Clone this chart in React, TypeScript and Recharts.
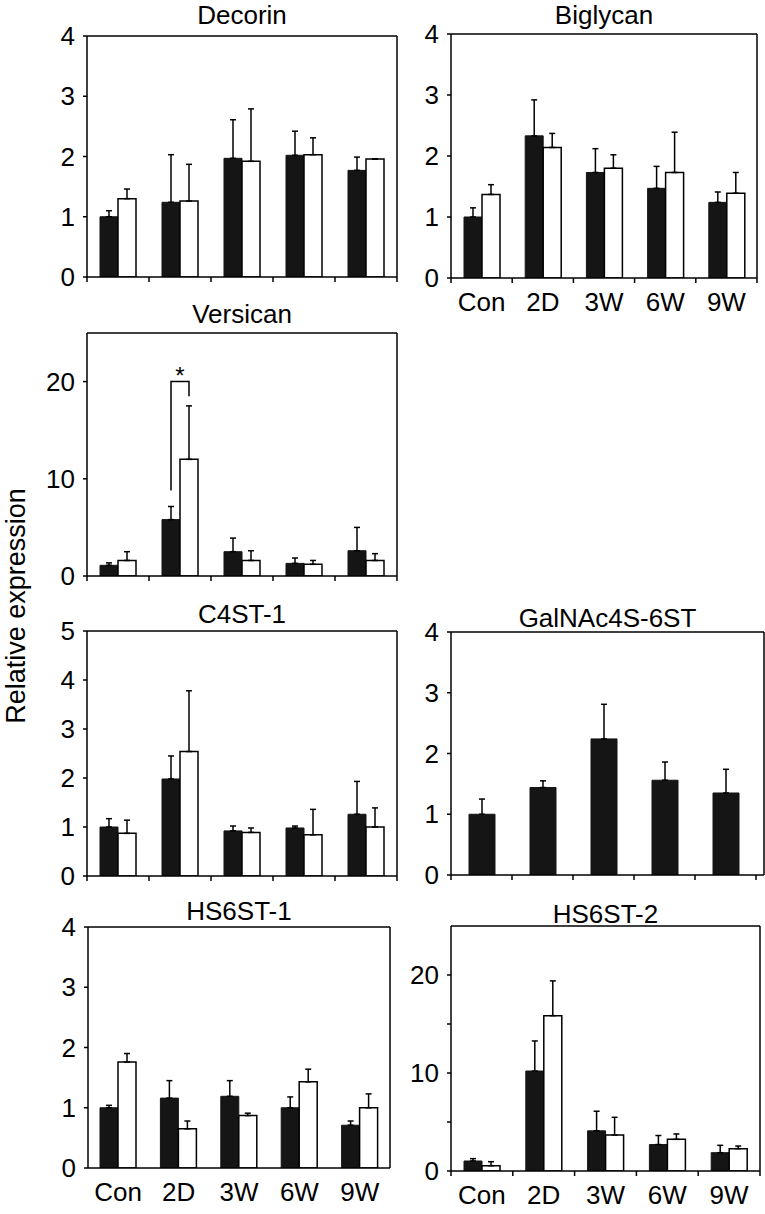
import React from "react";
import { Bar, BarChart, CartesianGrid, ErrorBar, LabelList, XAxis, YAxis } from "recharts";

const categories = ["Con", "2D", "3W", "6W", "9W"];

const decorinBlack = [1.0, 1.24, 1.97, 2.02, 1.77];
const decorinBlackErr = [0.1, 0.79, 0.64, 0.4, 0.22];
const decorinWhite = [1.3, 1.26, 1.92, 2.03, 1.96];
const decorinWhiteErr = [0.16, 0.61, 0.87, 0.28, 0];

const biglycanBlack = [1.0, 2.33, 1.73, 1.47, 1.24];
const biglycanBlackErr = [0.15, 0.59, 0.39, 0.36, 0.17];
const biglycanWhite = [1.37, 2.14, 1.8, 1.73, 1.39];
const biglycanWhiteErr = [0.16, 0.23, 0.22, 0.66, 0.34];

const versicanBlack = [1.1, 5.8, 2.5, 1.3, 2.6];
const versicanBlackErr = [0.25, 1.35, 1.4, 0.55, 2.4];
const versicanWhite = [1.6, 12.0, 1.6, 1.2, 1.6];
const versicanWhiteErr = [0.9, 5.5, 1.0, 0.4, 0.7];
// bracket over 2D: left leg from 8.8 up to 20, right leg down to 18.5
const versicanSig = { cat: "2D", from: 8.8, top: 20, to: 18.5 };

const c4stBlack = [1.0, 1.98, 0.92, 0.98, 1.26];
const c4stBlackErr = [0.17, 0.47, 0.1, 0.04, 0.67];
const c4stWhite = [0.87, 2.54, 0.89, 0.84, 1.0];
const c4stWhiteErr = [0.27, 1.24, 0.09, 0.52, 0.39];

const galnacBlack = [1.0, 1.44, 2.24, 1.56, 1.35];
const galnacBlackErr = [0.25, 0.11, 0.57, 0.3, 0.39];

const hs6st1Black = [1.0, 1.16, 1.19, 1.0, 0.71];
const hs6st1BlackErr = [0.04, 0.29, 0.26, 0.18, 0.07];
const hs6st1White = [1.76, 0.65, 0.87, 1.43, 1.0];
const hs6st1WhiteErr = [0.14, 0.13, 0.04, 0.21, 0.23];

const hs6st2Black = [1.02, 10.2, 4.1, 2.7, 1.87];
const hs6st2BlackErr = [0.24, 3.07, 2.0, 0.92, 0.75];
const hs6st2White = [0.54, 15.85, 3.67, 3.23, 2.28];
const hs6st2WhiteErr = [0.41, 3.55, 1.81, 0.55, 0.27];

const FONT = '"Liberation Sans", Arial, Helvetica, sans-serif';
const INK = "#000";
const BAR_BLACK = "#151515";
const TICK_FS = 26;

type PanelProps = {
  title: string;
  titleBase: number;
  left: number;
  top: number;
  right: number;
  bottom: number;
  yMax: number;
  yTicks: number[];
  labelEvery?: number;
  black: number[];
  blackErr: number[];
  white?: number[];
  whiteErr?: number[];
  showLabels?: boolean;
  boundaryTicks?: boolean;
  padRight?: number;
  barSize?: number;
  sig?: { cat: string; from: number; top: number; to: number };
};

const YW = 60;
const MT = 20;
const MR = 6;
const XH = 50;

function Panel(p: PanelProps) {
  const {
    title, titleBase, left, top, right, bottom, yMax, yTicks, labelEvery,
    black, blackErr, white, whiteErr, showLabels = false, boundaryTicks = true,
    padRight = 0, barSize = 18, sig,
  } = p;
  const plotW = right - left;
  const plotH = bottom - top;

  const rows = categories.map((cat, i) => ({
    cat,
    black: black[i],
    blackErr: [0, blackErr[i]],
    white: white ? white[i] : undefined,
    whiteErr: whiteErr ? [0, whiteErr[i]] : undefined,
    sig: sig && sig.cat === cat ? black[i] : null,
  }));

  const fallbackHalf = (plotW - padRight) / categories.length / 2;

  const renderXTick = (props: any) => {
    const { x, y, payload, index } = props;
    const half = payload && typeof payload.offset === "number" && payload.offset > 0 ? payload.offset : fallbackHalf;
    return (
      <g>
        {boundaryTicks && (
          <line x1={x - half} x2={x - half} y1={y} y2={y + 5} stroke={INK} strokeWidth={1.5} />
        )}
        {boundaryTicks && index === categories.length - 1 && (
          <line x1={x + half} x2={x + half} y1={y} y2={y + 5} stroke={INK} strokeWidth={1.5} />
        )}
        {showLabels && (
          <text x={x} y={y + 33} textAnchor="middle" fontSize={TICK_FS} fontFamily={FONT} fill={INK}>
            {payload.value}
          </text>
        )}
      </g>
    );
  };

  const renderSig = (props: any) => {
    const { value } = props;
    if (!sig || value === null || value === undefined) return null;
    const vb = props.viewBox || props;
    const { x, y, width, height } = vb;
    const base = y + height;
    const perUnit = height / value;
    const yFor = (v: number) => base - v * perUnit;
    const xl = x + width / 2;
    const xr = x + width * 1.5;
    const yt = yFor(sig.top);
    return (
      <g>
        <path
          d={`M${xl},${yFor(sig.from)} L${xl},${yt} L${xr},${yt} L${xr},${yFor(sig.to)}`}
          fill="none"
          stroke={INK}
          strokeWidth={1.5}
        />
        <text x={(xl + xr) / 2} y={yt + 2} textAnchor="middle" fontSize={24} fontFamily={FONT} fill={INK}>
          *
        </text>
      </g>
    );
  };

  const axisStroke = { stroke: INK, strokeWidth: 1.5 };

  return (
    <>
      <div
        style={{
          position: "absolute",
          left: left - 20,
          width: plotW + 40,
          top: titleBase - 22,
          fontSize: 26,
          lineHeight: "26px",
          fontFamily: FONT,
          textAlign: "center",
          color: INK,
          whiteSpace: "nowrap",
        }}
      >
        {title}
      </div>
      <div style={{ position: "absolute", left: left - YW, top: top - MT }}>
        <BarChart
          width={YW + plotW + MR}
          height={MT + plotH + XH}
          data={rows}
          margin={{ top: MT, right: MR, bottom: 0, left: 0 }}
          barGap={0}
        >
          {/* top and right edges of the frame */}
          <CartesianGrid
            stroke={INK}
            strokeWidth={1.5}
            horizontalCoordinatesGenerator={(g: any) => [g?.offset?.top ?? MT]}
            verticalCoordinatesGenerator={(g: any) => [
              g?.offset ? g.offset.left + g.offset.width : YW + plotW,
            ]}
          />
          <XAxis
            dataKey="cat"
            type="category"
            height={XH}
            axisLine={axisStroke}
            tickLine={false}
            tickSize={0}
            tickMargin={0}
            interval={0}
            padding={{ left: 0, right: padRight }}
            tick={renderXTick}
          />
          <YAxis
            type="number"
            domain={[0, yMax]}
            ticks={yTicks}
            interval={0}
            allowDataOverflow
            width={YW}
            axisLine={axisStroke}
            tickLine={axisStroke}
            tickSize={4}
            tickMargin={8}
            tick={{ fill: INK, fontSize: TICK_FS, fontFamily: FONT }}
            tickFormatter={(v: number) => (labelEvery && v % labelEvery !== 0 ? "" : String(v))}
          />
          <Bar dataKey="black" fill={BAR_BLACK} stroke={BAR_BLACK} strokeWidth={1} barSize={barSize} isAnimationActive={false}>
            <ErrorBar dataKey="blackErr" direction="y" width={3} stroke={INK} strokeWidth={1.5} isAnimationActive={false} />
            {sig && <LabelList dataKey="sig" content={renderSig} />}
          </Bar>
          {white && (
            <Bar dataKey="white" fill="#fff" stroke={INK} strokeWidth={1.5} barSize={barSize} isAnimationActive={false}>
              <ErrorBar dataKey="whiteErr" direction="y" width={3} stroke={INK} strokeWidth={1.5} isAnimationActive={false} />
            </Bar>
          )}
        </BarChart>
      </div>
    </>
  );
}

export default function App() {
  return (
    <div
      style={{
        position: "absolute",
        left: 0,
        top: 0,
        width: 765,
        height: 1214,
        background: "#fff",
        fontFamily: FONT,
        overflow: "hidden",
      }}
    >
      <div
        style={{
          position: "absolute",
          left: 16,
          top: 606,
          transform: "translate(-50%, -50%) rotate(-90deg)",
          fontSize: 27,
          lineHeight: "30px",
          whiteSpace: "nowrap",
          color: INK,
        }}
      >
        Relative expression
      </div>

      <Panel
        title="Decorin"
        titleBase={24}
        left={87}
        top={36}
        right={397}
        bottom={277}
        yMax={4}
        yTicks={[0, 1, 2, 3, 4]}
        black={decorinBlack}
        blackErr={decorinBlackErr}
        white={decorinWhite}
        whiteErr={decorinWhiteErr}
      />
      <Panel
        title="Biglycan"
        titleBase={24}
        left={451}
        top={34}
        right={757}
        bottom={278}
        yMax={4}
        yTicks={[0, 1, 2, 3, 4]}
        black={biglycanBlack}
        blackErr={biglycanBlackErr}
        white={biglycanWhite}
        whiteErr={biglycanWhiteErr}
        showLabels
      />
      <Panel
        title="Versican"
        titleBase={323}
        left={87}
        top={333}
        right={397}
        bottom={576}
        yMax={25}
        yTicks={[0, 10, 20]}
        black={versicanBlack}
        blackErr={versicanBlackErr}
        white={versicanWhite}
        whiteErr={versicanWhiteErr}
        sig={versicanSig}
      />
      <Panel
        title="C4ST-1"
        titleBase={623}
        left={87}
        top={631}
        right={397}
        bottom={876}
        yMax={5}
        yTicks={[0, 1, 2, 3, 4, 5]}
        black={c4stBlack}
        blackErr={c4stBlackErr}
        white={c4stWhite}
        whiteErr={c4stWhiteErr}
      />
      <Panel
        title="GalNAc4S-6ST"
        titleBase={627}
        left={451}
        top={632}
        right={764}
        bottom={875}
        yMax={4}
        yTicks={[0, 1, 2, 3, 4]}
        black={galnacBlack}
        blackErr={galnacBlackErr}
        padRight={8}
        barSize={26}
      />
      <Panel
        title="HS6ST-1"
        titleBase={920}
        left={88}
        top={927}
        right={390}
        bottom={1168}
        yMax={4}
        yTicks={[0, 1, 2, 3, 4]}
        black={hs6st1Black}
        blackErr={hs6st1BlackErr}
        white={hs6st1White}
        whiteErr={hs6st1WhiteErr}
        showLabels
        boundaryTicks={false}
      />
      <Panel
        title="HS6ST-2"
        titleBase={923}
        left={451}
        top={926}
        right={760}
        bottom={1171}
        yMax={25}
        yTicks={[0, 5, 10, 15, 20]}
        labelEvery={10}
        black={hs6st2Black}
        blackErr={hs6st2BlackErr}
        white={hs6st2White}
        whiteErr={hs6st2WhiteErr}
        showLabels
      />
    </div>
  );
}
